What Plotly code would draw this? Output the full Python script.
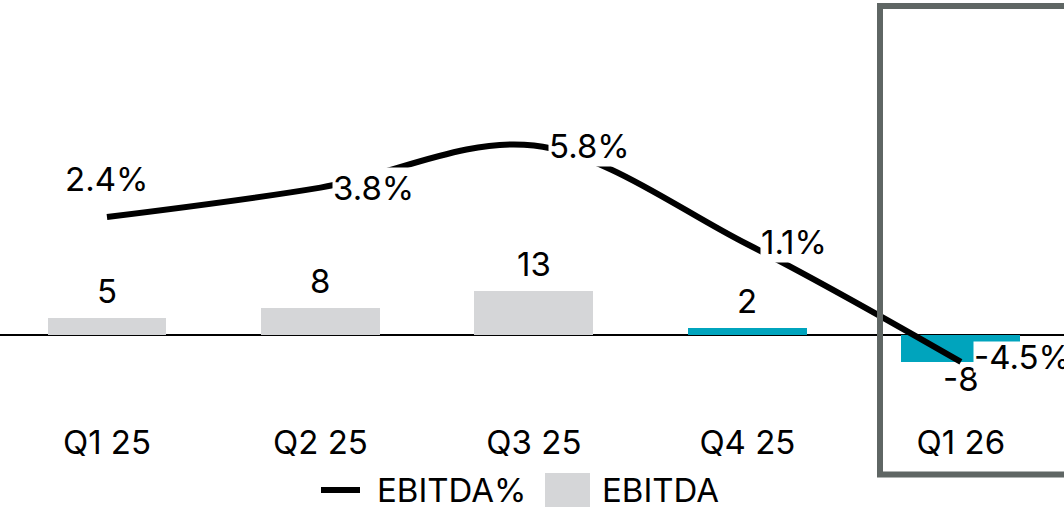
import plotly.graph_objects as go

# Quarterly EBITDA (bars) and EBITDA margin (line)
quarters = ["Q1 25", "Q2 25", "Q3 25", "Q4 25", "Q1 26"]
ebitda = [5, 8, 13, 2, -8]
ebitda_pct = [2.4, 3.8, 5.8, 1.1, -4.5]

GREY = "#d5d6d8"
TEAL = "#00a4bd"
FRAME = "#5f6664"
FONT = "Inter"
FS = 33
bar_colors = [GREY, GREY, GREY, TEAL, TEAL]

W, H = 1064, 509
PLOT_BOTTOM = 400  # pixel row of the bottom of the plotting area


def px(x):
    return x / W


def py(y):
    return (PLOT_BOTTOM - y) / PLOT_BOTTOM


fig = go.Figure()

fig.add_trace(go.Bar(
    x=quarters, y=ebitda, name="EBITDA",
    marker=dict(color=bar_colors, line=dict(width=0)),
    width=0.557, yaxis="y", showlegend=False,
))

fig.add_trace(go.Scatter(
    x=quarters, y=ebitda_pct, name="EBITDA%", mode="lines",
    line=dict(color="black", width=6, shape="spline", smoothing=1.0),
    yaxis="y2", showlegend=False,
))

annotations = []

# bar value labels
for q, v in zip(quarters, ebitda):
    if v >= 0:
        annotations.append(dict(x=q, y=v, yref="y", text=str(v), showarrow=False,
                                xanchor="center", yanchor="bottom", yshift=5))
    else:
        annotations.append(dict(x=q, y=v, yref="y", text=str(v), showarrow=False,
                                xanchor="center", yanchor="top", yshift=5))

# margin labels on white boxes next to the line points
pct_offsets = [
    dict(xanchor="center", yanchor="bottom", xshift=0, yshift=17),
    dict(xanchor="left", yanchor="middle", xshift=12, yshift=0),
    dict(xanchor="left", yanchor="middle", xshift=14, yshift=0),
    dict(xanchor="left", yanchor="middle", xshift=13, yshift=2),
    dict(xanchor="left", yanchor="middle", xshift=12, yshift=5, height=30),
]
for q, v, off in zip(quarters, ebitda_pct, pct_offsets):
    annotations.append(dict(x=q, y=v, yref="y2", text=f"{v:.1f}%", showarrow=False,
                            bgcolor="white", borderpad=0, **off))

# legend
annotations.append(dict(x=px(375), y=py(490), xref="paper", yref="paper", text="EBITDA%",
                        showarrow=False, xanchor="left", yanchor="middle"))
annotations.append(dict(x=px(600), y=py(490), xref="paper", yref="paper", text="EBITDA",
                        showarrow=False, xanchor="left", yanchor="middle"))

shapes = [
    # highlight frame around the latest quarter
    dict(type="rect", xref="paper", yref="paper",
         x0=px(880), x1=px(1110), y0=py(6), y1=py(474.5),
         line=dict(color=FRAME, width=6), fillcolor="rgba(0,0,0,0)", layer="above"),
    # legend markers
    dict(type="line", xref="paper", yref="paper",
         x0=px(321), x1=px(360), y0=py(490), y1=py(490),
         line=dict(color="black", width=6)),
    dict(type="rect", xref="paper", yref="paper",
         x0=px(545), x1=px(590), y0=py(473), y1=py(507),
         line=dict(width=0), fillcolor=GREY),
]

fig.update_layout(
    width=W, height=H,
    margin=dict(l=0, r=0, t=0, b=H - PLOT_BOTTOM, pad=0),
    paper_bgcolor="white", plot_bgcolor="white",
    font=dict(family=FONT, size=FS, color="black"),
    bargap=0,
    xaxis=dict(type="category", range=[-0.501, 4.483], showgrid=False, showline=False,
               ticks="", ticklabelstandoff=20, tickfont=dict(size=FS), fixedrange=True),
    yaxis=dict(range=[-65 / 3.4, 335 / 3.4], showgrid=False, showticklabels=False,
               zeroline=True, zerolinecolor="black", zerolinewidth=1.5),
    yaxis2=dict(range=[-(PLOT_BOTTOM - 267.4) / 21.0, 267.4 / 21.0], overlaying="y",
                showgrid=False, showticklabels=False, zeroline=False),
    annotations=annotations,
    shapes=shapes,
    showlegend=False,
)

fig.write_html("out.html")
